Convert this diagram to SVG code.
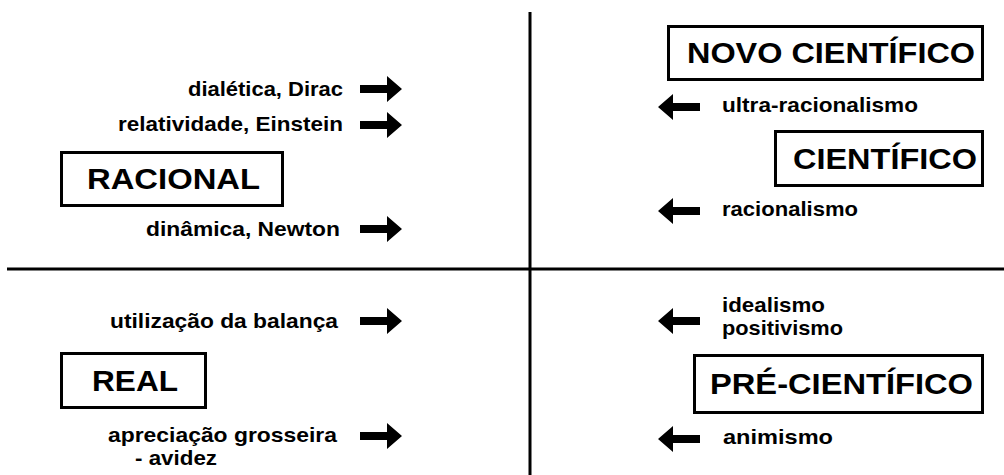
<svg xmlns="http://www.w3.org/2000/svg" width="1004" height="475" viewBox="0 0 1004 475">
<style>
.bg{fill:#fff}
.ax{stroke:#000;stroke-width:3;fill:none}
.box rect{fill:#fff;stroke:#000;stroke-width:3}
.big{font-family:"Liberation Sans",Arial,sans-serif;font-size:29px;font-weight:bold;fill:#000}
.lbl{font-family:"Liberation Sans",Arial,sans-serif;font-size:20.5px;font-weight:bold;fill:#000}
.arr{fill:#000}
</style>
<defs>
<path id="ar" d="M0,-4 H27 V-13 L42,0 L27,13 V4 H0 Z"/>
</defs>
<rect class="bg" x="0" y="0" width="1004" height="475"/>
<g id="axes">
<line class="ax" x1="530" y1="12" x2="530" y2="475"/>
<line class="ax" x1="7" y1="269" x2="1004" y2="269"/>
</g>
<g id="racional" class="box">
<rect x="61.5" y="152.5" width="221" height="53"/>
<text class="big" x="87" y="189" textLength="173" lengthAdjust="spacingAndGlyphs">RACIONAL</text>
</g>
<g id="novo-cientifico" class="box">
<rect x="668.5" y="26.5" width="314" height="53"/>
<text class="big" x="687" y="63" textLength="288" lengthAdjust="spacingAndGlyphs">NOVO CIENTÍFICO</text>
</g>
<g id="cientifico" class="box">
<rect x="775.5" y="131.5" width="207" height="54"/>
<text class="big" x="793" y="169" textLength="184" lengthAdjust="spacingAndGlyphs">CIENTÍFICO</text>
</g>
<g id="real" class="box">
<rect x="61.5" y="353.5" width="144" height="54"/>
<text class="big" x="92" y="391" textLength="86" lengthAdjust="spacingAndGlyphs">REAL</text>
</g>
<g id="pre-cientifico" class="box">
<rect x="694.5" y="355.5" width="288" height="57"/>
<text class="big" x="710" y="394" textLength="263" lengthAdjust="spacingAndGlyphs">PRÉ-CIENTÍFICO</text>
</g>
<g id="labels">
<text class="lbl" x="188" y="96" textLength="155" lengthAdjust="spacingAndGlyphs">dialética, Dirac</text>
<text class="lbl" x="118" y="131" textLength="225" lengthAdjust="spacingAndGlyphs">relatividade, Einstein</text>
<text class="lbl" x="146" y="236" textLength="194" lengthAdjust="spacingAndGlyphs">dinâmica, Newton</text>
<text class="lbl" x="110" y="328" textLength="228" lengthAdjust="spacingAndGlyphs">utilização da balança</text>
<text class="lbl" x="108" y="442" textLength="229" lengthAdjust="spacingAndGlyphs">apreciação grosseira</text>
<text class="lbl" x="135" y="465" textLength="82" lengthAdjust="spacingAndGlyphs">- avidez</text>
<text class="lbl" x="722" y="112" textLength="196" lengthAdjust="spacingAndGlyphs">ultra-racionalismo</text>
<text class="lbl" x="722" y="216" textLength="136" lengthAdjust="spacingAndGlyphs">racionalismo</text>
<text class="lbl" x="722" y="312" textLength="103" lengthAdjust="spacingAndGlyphs">idealismo</text>
<text class="lbl" x="722" y="335" textLength="121" lengthAdjust="spacingAndGlyphs">positivismo</text>
<text class="lbl" x="723" y="444" textLength="110" lengthAdjust="spacingAndGlyphs">animismo</text>
</g>
<g id="connectors" class="arr">
<use href="#ar" transform="translate(360,89)"/>
<use href="#ar" transform="translate(360,125)"/>
<use href="#ar" transform="translate(360,229)"/>
<use href="#ar" transform="translate(360,321)"/>
<use href="#ar" transform="translate(360,436)"/>
<use href="#ar" transform="translate(700,107) scale(-1,1)"/>
<use href="#ar" transform="translate(700,211) scale(-1,1)"/>
<use href="#ar" transform="translate(700,321) scale(-1,1)"/>
<use href="#ar" transform="translate(700,439) scale(-1,1)"/>
</g>
</svg>
